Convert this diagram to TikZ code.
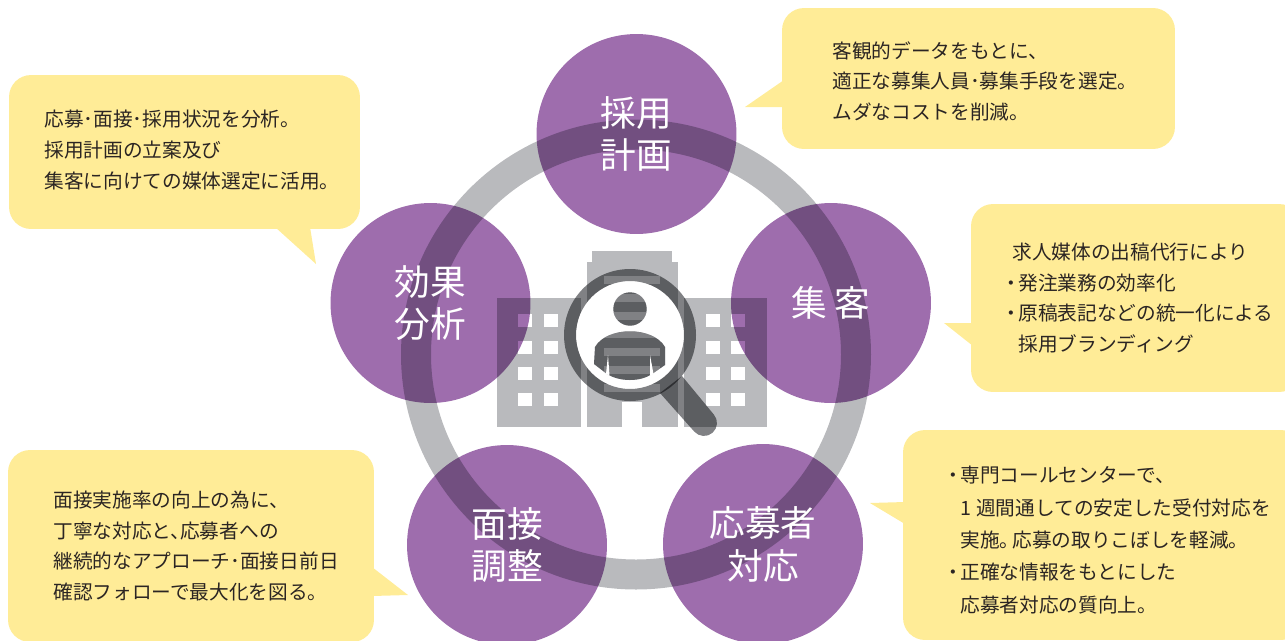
\documentclass[tikz,border=0pt]{standalone}
\usepackage{xcolor}
\usepackage{fontspec}
\setmainfont{Noto Sans CJK JP}
\definecolor{ringgray}{HTML}{B9BABD}
\definecolor{lensgray}{HTML}{808184}
\definecolor{stagepurple}{HTML}{9E6DAD}
\definecolor{notefill}{HTML}{FFEC97}
\definecolor{notetext}{HTML}{2B2523}
\newcommand{\dotmark}{\hspace*{-.08cm}\makebox[.12cm][c]{・}\hspace{.08cm}}
\newcommand{\personpath}{(595,347) .. controls (607,326) and (653,326) .. (665,347) -- (665,365) -- (652,374) .. controls (640,382) and (620,382) .. (607,374) -- (594,364) -- cycle (630,309) circle[radius=16.7]}
\newcommand{\officeblock}{
  \fill[ringgray] (497,298) rectangle (581,427);
  \fill[ringgray] (587,262) rectangle (678,427);
  \fill[ringgray] (592,251) rectangle (672,262);
  \fill[ringgray] (684,298) rectangle (767,427);
  \fill[white] (622,402) rectangle (642,428);
  \foreach \wy in {314,341,367,393} {
    \foreach \wx in {518,544,706,731} {
      \fill[white] (\wx,\wy) rectangle ++(13.5,13);
    }
  }
  \foreach \wy in {276,294,312,330,348,366,384} {
    \fill[white] (604,\wy) rectangle ++(56,8.4);
  }
}
\begin{document}
\begin{tikzpicture}[
  x=0.02cm, y=-0.02cm,
  stage/.style={circle, fill=stagepurple, inner sep=0pt, outer sep=0pt, minimum size=4cm},
  stagetext/.style={text=white, align=center, font=\fontsize{20.3}{24.4}\selectfont},
  note/.style={fill=notefill, rounded corners=0.44cm, inner sep=0pt, outer sep=0pt},
  memo/.style={anchor=west, align=left, inner sep=0pt, text=notetext, font=\fontsize{11.2}{17.4}\selectfont}
]
\useasboundingbox (0,0) rectangle (1285,640);
\draw[ringgray, line width=0.6cm] (636,354.5) circle[radius=220];
\officeblock
% lens
\fill[white] (630,335) circle[radius=54];
\begin{scope}
  \clip \personpath;
  \officeblock
\end{scope}
\begin{scope}[blend mode=multiply]
  \fill[lensgray] \personpath;
  \fill[lensgray, even odd rule] (630,335) circle[radius=66] (630,335) circle[radius=54];
  \fill[lensgray] (660,393) -- (682,376) -- (713.8,414.5) .. controls (718.5,419.9) and (717.9,428.1) .. (712.5,432.8) .. controls (707.1,437.5) and (698.9,436.9) .. (694.2,431.5) -- cycle;
\end{scope}
\fill[white] (608,355) -- (606,374) -- (609.5,375.5) -- cycle;
\fill[white] (650,355) -- (653.5,374) -- (650,375.5) -- cycle;
% stages
\begin{scope}[blend mode=multiply]
  \node[stage] (plan) at (636.5,134) {};
  \node[stage] (attract) at (831,303) {};
  \node[stage] (respond) at (763,544) {};
  \node[stage] (adjust) at (507,545) {};
  \node[stage] (review) at (430.5,303) {};
\end{scope}
\node[stagetext] (plantext) at (plan.center) {採用\\計画};
\node[stagetext] (attracttext) at (attract.center) {集\hspace{.16cm}客};
\node[stagetext] (respondtext) at (respond.center) {応募者\\対応};
\node[stagetext] (adjusttext) at (adjust.center) {面接\\調整};
\node[stagetext] (reviewtext) at (review.center) {効果\\分析};
% notes
\node[note, minimum width=7.86cm, minimum height=2.82cm] (plannote) at (978.5,78.5) {};
\coordinate (plantip) at (745,107);
\fill[notefill] (784,80) -- (plantip) -- (784,107) -- cycle;
\node[memo] (planmemo) at (832,81) {客観的データをもとに、\\適正な募集人員･募集手段を選定。\\ムダなコストを削減。};
\node[note, minimum width=6.6cm, minimum height=3.76cm] (attractnote) at (1136,298) {};
\coordinate (attracttip) at (944,323);
\fill[notefill] (973,323) -- (attracttip) -- (973,346) -- cycle;
\node[memo] (attractmemo) at (1012,298) {求人媒体の出稿代行により\\\dotmark 発注業務の効率化\\\dotmark 原稿表記などの統一化による\\\hspace*{.12cm}採用ブランディング};
\node[note, minimum width=8.0cm, minimum height=4.2cm] (respondnote) at (1103,535) {};
\coordinate (respondtip) at (870,503);
\fill[notefill] (905,502) -- (respondtip) -- (905,524) -- cycle;
\node[memo, font=\fontsize{11.2}{18.4}\selectfont] (respondmemo) at (954,540) {\dotmark 専門コールセンターで、\\\hspace*{.12cm}1\hspace{.1cm}週間通しての安定した受付対応を\\\hspace*{.12cm}実施。\hspace{-.14cm}応募の取りこぼしを軽減。\\\dotmark 正確な情報をもとにした\\\hspace*{.12cm}応募者対応の質向上。};
\node[note, minimum width=7.32cm, minimum height=3.84cm] (adjustnote) at (191,546) {};
\coordinate (adjusttip) at (408,595);
\fill[notefill] (372,567) -- (adjusttip) -- (372,596) -- cycle;
\node[memo] (adjustmemo) at (53,546) {面接実施率の向上の為に、\\丁寧な対応と、\hspace{-.2cm}応募者への\\継続的なアプローチ･面接日前日\\確認フォローで最大化を図る。};
\node[note, minimum width=7.02cm, minimum height=3.08cm] (reviewnote) at (184.5,152) {};
\coordinate (reviewtip) at (316,264);
\fill[notefill] (275,227) -- (reviewtip) -- (310,227) -- cycle;
\node[memo] (reviewmemo) at (44,150) {応募･面接･採用状況を分析。\\採用計画の立案及び\\集客に向けての媒体選定に活用。};
\end{tikzpicture}
\end{document}
